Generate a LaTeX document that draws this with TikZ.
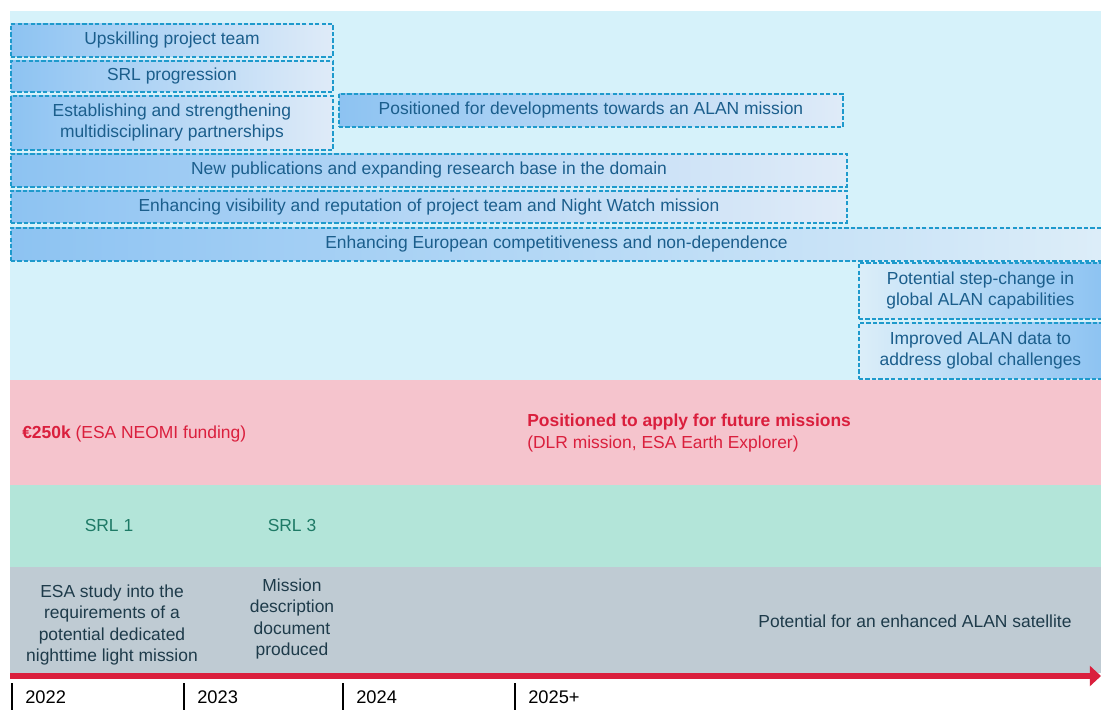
\documentclass[tikz,border=0pt]{standalone}
\usepackage{fontspec}
\setmainfont{Liberation Sans}
\usetikzlibrary{arrows.meta}

\definecolor{bgcyan}{HTML}{D6F2FA}
\definecolor{boxdark}{HTML}{8DC3F2}
\definecolor{boxlight}{HTML}{DFEBF8}
\definecolor{dashcol}{HTML}{1E9ACC}
\definecolor{txtblue}{HTML}{1B5E8C}
\definecolor{pinkband}{HTML}{F5C4CD}
\definecolor{redtxt}{HTML}{DA1F3D}
\definecolor{greenband}{HTML}{B3E5D9}
\definecolor{greentxt}{HTML}{1E7A66}
\definecolor{greyband}{HTML}{BFCBD3}
\definecolor{greytxt}{HTML}{1E3B4A}

\begin{document}
\begin{tikzpicture}[x=0.025cm, y=-0.025cm, font=\fontsize{12.4}{15}\selectfont,
  outbox/.style={draw=dashcol, dash pattern=on 3pt off 1.6pt, line width=1.3pt,
    text=txtblue, align=center, anchor=north west, inner sep=0pt},
  leftbox/.style={outbox, left color=boxdark, right color=boxlight},
  rightbox/.style={outbox, left color=boxlight!60!bgcyan, right color=boxdark},
  plain/.style={inner sep=0pt, align=center}]

\useasboundingbox (0,0) rectangle (1101,710);

% bands
\fill[bgcyan] (10,11) rectangle (1101,380);
\fill[pinkband] (10,380) rectangle (1101,485);
\fill[greenband] (10,485) rectangle (1101,567);
\fill[greyband] (10,567) rectangle (1101,673);

% outcome boxes
\node[leftbox, minimum width=8.05cm, minimum height=0.825cm] (upskill) at (10,23) {Upskilling project team};
\node[leftbox, minimum width=8.05cm, minimum height=0.775cm] (srlprog) at (10,60) {SRL progression};
\node[leftbox, minimum width=8.05cm, minimum height=1.35cm] (partner) at (10,95) {Establishing and strengthening\\multidisciplinary partnerships};
\node[leftbox, minimum width=12.6cm, minimum height=0.825cm] (towards) at (338,93) {Positioned for developments towards an ALAN mission};
\node[leftbox, minimum width=20.9cm, minimum height=0.825cm] (publ) at (10,153) {New publications and expanding research base in the domain};
\node[leftbox, minimum width=20.9cm, minimum height=0.8cm] (visib) at (10,190) {Enhancing visibility and reputation of project team and Night Watch mission};
\node[leftbox, right color=boxlight!70!bgcyan, minimum width=27.275cm, minimum height=0.825cm] (europe) at (10,227) {Enhancing European competitiveness and non-dependence};
\node[rightbox, minimum width=6.075cm, minimum height=1.4cm] (stepchg) at (858,262) {Potential step-change in\\global ALAN capabilities};
\node[rightbox, minimum width=6.075cm, minimum height=1.4cm] (improved) at (858,322) {Improved ALAN data to\\address global challenges};

% funding
\node[plain, anchor=west, text=redtxt] (funding) at (22,434) {\textbf{€250k} (ESA NEOMI funding)};
\node[plain, anchor=west, align=left, text=redtxt] (future) at (527,433) {\textbf{Positioned to apply for future missions}\\(DLR mission, ESA Earth Explorer)};

% readiness
\node[plain, text=greentxt] (srlone) at (109,525) {SRL 1};
\node[plain, text=greentxt] (srlthree) at (292,525) {SRL 3};

% milestones
\node[plain, text=greytxt] (study) at (112,625) {ESA study into the\\requirements of a\\potential dedicated\\nighttime light mission};
\node[plain, text=greytxt] (mdd) at (292,619) {Mission\\description\\document\\produced};
\node[plain, text=greytxt] (satellite) at (915,621) {Potential for an enhanced ALAN satellite};

% time axis
\coordinate (tstart) at (10,676);
\coordinate (tend) at (1101,676);
\draw[redtxt, line width=0.15cm, -{Triangle[length=0.28cm, width=0.5cm]}] (tstart) -- (tend);
\foreach \x/\yr [count=\i] in {12/2022, 184/2023, 343/2024, 515/2025+} {
  \draw[line width=1.4pt] (\x,683) -- (\x,710);
  \node[plain, anchor=west, font=\fontsize{13}{15}\selectfont] (yr\i) at (\x+13,697) {\yr};
}

\end{tikzpicture}
\end{document}
